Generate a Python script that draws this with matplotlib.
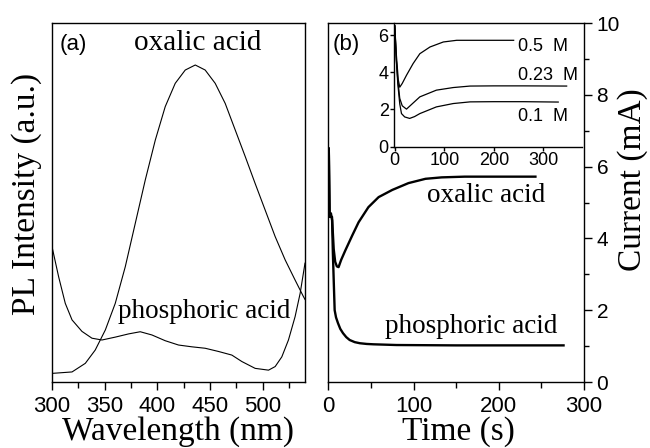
import matplotlib
matplotlib.use("Agg")
import matplotlib.pyplot as plt
from matplotlib.ticker import MultipleLocator

# ---------------- data ----------------
# (a) PL spectra (normalised intensity)
wl_oxalic = [300, 319, 331.6, 341, 350.6, 360, 369.5, 379, 388.5, 398, 407.4,
             416.9, 426.4, 435.9, 445.3, 454.8, 464.3, 473.8, 483.3, 492.7,
             502.2, 511.7, 521.2, 530.6, 538.5, 540]
pl_oxalic = [0.024, 0.028, 0.052, 0.089, 0.145, 0.219, 0.321, 0.442, 0.563,
             0.674, 0.767, 0.832, 0.869, 0.883, 0.869, 0.832, 0.776, 0.702,
             0.628, 0.553, 0.479, 0.405, 0.340, 0.284, 0.238, 0.230]
wl_phos = [300, 306.3, 312.6, 319, 328.4, 337.9, 347.4, 360, 372.7, 383.7,
           394.8, 407.4, 420, 432.7, 445.3, 458, 470.6, 480.1, 492.7, 505.4,
           511.7, 518, 524.3, 530.6, 535.4, 540]
pl_phos = [0.377, 0.293, 0.219, 0.173, 0.141, 0.122, 0.117, 0.125, 0.134,
           0.140, 0.131, 0.115, 0.103, 0.098, 0.094, 0.085, 0.075, 0.057,
           0.038, 0.033, 0.043, 0.070, 0.117, 0.182, 0.247, 0.331]

# (b) current transients
t_oxalic = [0.5, 1.5, 3, 4.5, 6.3, 8, 10, 12, 15, 20, 28, 35.5, 47, 59, 75,
            94, 114, 133, 160, 200, 243]
i_oxalic = [6.5, 4.6, 4.7, 4.5, 3.7, 3.35, 3.22, 3.2, 3.4, 3.67, 4.08, 4.45,
            4.87, 5.15, 5.35, 5.54, 5.66, 5.70, 5.72, 5.72, 5.72]
t_phos = [0.5, 1.5, 3, 4.3, 5.3, 6.3, 7.4, 9, 11.3, 14, 17.2, 21, 25, 31, 37,
          45, 53, 80, 150, 276]
i_phos = [6.5, 4.6, 4.6, 4.6, 3.6, 2.83, 2.0, 1.8, 1.64, 1.48, 1.36, 1.25,
          1.17, 1.11, 1.08, 1.06, 1.05, 1.03, 1.02, 1.02]

# inset: oxalic acid concentration series
t_05 = [0, 3, 7, 10, 15, 23.6, 37, 50.6, 71, 98, 125, 160, 200, 240]
i_05 = [6.5, 5.0, 3.6, 3.2, 3.4, 3.84, 4.47, 5.0, 5.36, 5.63, 5.72, 5.72,
        5.72, 5.72]
t_023 = [0, 3, 6, 10, 15, 23.6, 35, 50.6, 84, 118, 152, 200, 260, 347]
i_023 = [6.5, 4.7, 3.6, 2.6, 2.2, 2.02, 2.3, 2.68, 3.04, 3.18, 3.26, 3.27,
         3.27, 3.26]
t_01 = [0, 3, 6, 10, 13.5, 20, 30, 40, 50.6, 84, 118, 152, 200, 260, 330]
i_01 = [6.5, 4.7, 3.4, 2.3, 1.78, 1.6, 1.52, 1.62, 1.78, 2.14, 2.32, 2.41,
        2.42, 2.42, 2.4]

wl_ticks = [300, 350, 400, 450, 500]
time_ticks = [0, 100, 200, 300]
cur_ticks = [0, 2, 4, 6, 8, 10]
inset_xticks = [0, 100, 200, 300]
inset_yticks = [0, 2, 4, 6]

# ---------------- figure ----------------
W, H = 650, 448
fig = plt.figure(figsize=(W / 100, H / 100), dpi=100)
SERIF = "Liberation Serif"
SANS = "Liberation Sans"


def fx(px):
    return px / W


def fy(py):
    return 1 - py / H


def rect(x0, y0, x1, y1):
    return [fx(x0), fy(y1), fx(x1) - fx(x0), fy(y0) - fy(y1)]


# ----- panel (a) -----
axa = fig.add_axes(rect(52, 23, 305, 382))
axa.plot(wl_oxalic, pl_oxalic, color="black", lw=0.8)
axa.plot(wl_phos, pl_phos, color="black", lw=0.8)
axa.set_xlim(300, 540)
axa.set_ylim(0, 1)
axa.set_xticks(wl_ticks)
axa.xaxis.set_minor_locator(MultipleLocator(25))
axa.set_yticks([])
axa.tick_params(axis="x", which="major", direction="out", length=6, width=1,
                pad=4, labelsize=16)
axa.tick_params(axis="x", which="minor", direction="out", length=4, width=1)
for lab in axa.get_xticklabels():
    lab.set_fontfamily(SANS)
for s in axa.spines.values():
    s.set_linewidth(1.0)

fig.text(fx(178), fy(440), "Wavelength (nm)", family=SERIF, fontsize=24,
         ha="center", va="baseline")
fig.text(fx(27), fy(194), "PL Intensity (a.u.)", family=SERIF, fontsize=24,
         rotation=90, ha="center", va="center")
fig.text(fx(60), fy(50), "(a)", family=SANS, fontsize=16, ha="left",
         va="baseline")
fig.text(fx(198), fy(50), "oxalic acid", family=SERIF, fontsize=21,
         ha="center", va="baseline")
fig.text(fx(204), fy(318), "phosphoric acid", family=SERIF, fontsize=19.5,
         ha="center", va="baseline")

# ----- panel (b) -----
axb = fig.add_axes(rect(327.5, 23, 584, 382))
axb.plot(t_oxalic, i_oxalic, color="black", lw=1.7)
axb.plot(t_phos, i_phos, color="black", lw=1.7)
axb.set_xlim(-1, 300)
axb.set_ylim(0, 10)
axb.set_xticks(time_ticks)
axb.xaxis.set_minor_locator(MultipleLocator(50))
axb.yaxis.tick_right()
axb.set_yticks(cur_ticks)
axb.yaxis.set_minor_locator(MultipleLocator(1))
axb.tick_params(axis="x", which="major", direction="out", length=6, width=1,
                pad=4, labelsize=16)
axb.tick_params(axis="x", which="minor", direction="out", length=4, width=1)
axb.tick_params(axis="y", which="major", direction="out", length=6, width=1,
                pad=3, labelsize=15)
axb.tick_params(axis="y", which="minor", direction="out", length=3.5, width=1)
for lab in axb.get_xticklabels() + axb.get_yticklabels():
    lab.set_fontfamily(SANS)
for s in axb.spines.values():
    s.set_linewidth(1.0)

fig.text(fx(458), fy(440), "Time (s)", family=SERIF, fontsize=24,
         ha="center", va="baseline")
fig.text(fx(633), fy(180), "Current (mA)", family=SERIF, fontsize=24,
         rotation=90, ha="center", va="center")
fig.text(fx(333), fy(50), "(b)", family=SANS, fontsize=16, ha="left",
         va="baseline")
fig.text(fx(486), fy(201.5), "oxalic acid", family=SERIF, fontsize=19.5,
         ha="center", va="baseline")
fig.text(fx(471.5), fy(333), "phosphoric acid", family=SERIF, fontsize=19.5,
         ha="center", va="baseline")

# ----- inset -----
axi = fig.add_axes(rect(394.3, 23, 582, 146.7))
axi.patch.set_alpha(0)
axi.plot(t_05, i_05, color="black", lw=0.9)
axi.plot(t_023, i_023, color="black", lw=0.9)
axi.plot(t_01, i_01, color="black", lw=0.9)
axi.set_xlim(-1, 378)
axi.set_ylim(0, 6.65)
axi.set_xticks(inset_xticks)
axi.set_yticks(inset_yticks)
axi.spines["top"].set_visible(False)
axi.spines["right"].set_visible(False)
for s in ("left", "bottom"):
    axi.spines[s].set_linewidth(1.0)
axi.tick_params(direction="out", length=3, width=1, pad=1, labelsize=13)
for lab in axi.get_xticklabels() + axi.get_yticklabels():
    lab.set_fontfamily(SANS)
axi.text(248, 5.36, "0.5  M", family=SANS, fontsize=13, ha="left",
         va="center")
axi.text(248, 3.84, "0.23  M", family=SANS, fontsize=13, ha="left",
         va="center")
axi.text(248, 1.6, "0.1  M", family=SANS, fontsize=13, ha="left",
         va="center")

fig.savefig("out.png", dpi=100)
